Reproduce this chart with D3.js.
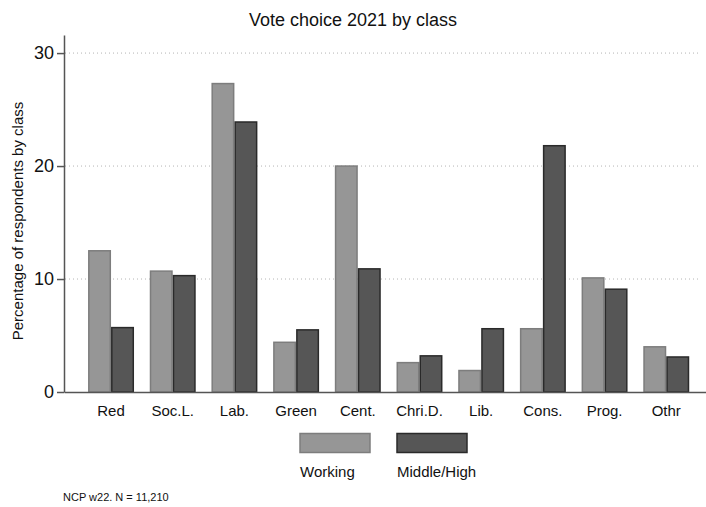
<!DOCTYPE html>
<html>
<head>
<meta charset="utf-8">
<script src="https://cdn.jsdelivr.net/npm/d3@7"></script>
<style>
  html, body { margin: 0; padding: 0; background: #fff; }
  svg { display: block; font-family: "Liberation Sans", Arial, sans-serif; }
</style>
</head>
<body>
<svg id="chart" width="706" height="507"></svg>
<script>
// Party categories and vote shares (%) per class
const categories = ["Red", "Soc.L.", "Lab.", "Green", "Cent.", "Chri.D.", "Lib.", "Cons.", "Prog.", "Othr"];
const seriesNames = ["Working", "Middle/High"];
const working    = [12.5, 10.7, 27.3, 4.4, 20.0, 2.6, 1.9, 5.6, 10.1, 4.0];
const middleHigh = [5.7, 10.3, 23.9, 5.5, 10.9, 3.2, 5.6, 21.8, 9.1, 3.1];
const yTicks = [0, 10, 20, 30];

const fills   = ["#969696", "#565656"];
const strokes = ["#7d7d7d", "#2a2a2a"];

const svg = d3.select("#chart");

const x = d3.scaleBand()
  .domain(categories)
  .range([64, 713.3])
  .paddingInner(0.255)
  .paddingOuter(0.39);

const xs = d3.scaleBand()
  .domain(seriesNames)
  .range([0, x.bandwidth()]);

const y = d3.scaleLinear()
  .domain([0, 31.6])
  .range([392, 35]);

// dotted gridlines
svg.append("g")
  .selectAll("line")
  .data(yTicks.filter(d => d > 0))
  .join("line")
  .attr("x1", 65).attr("x2", 700)
  .attr("y1", d => y(d)).attr("y2", d => y(d))
  .attr("stroke", "#b4b4b4")
  .attr("stroke-width", 1)
  .attr("stroke-dasharray", "1,3");

// bars
const rows = categories.map((c, i) => ({ cat: c, values: [working[i], middleHigh[i]] }));
svg.append("g")
  .selectAll("g")
  .data(rows)
  .join("g")
  .attr("transform", d => `translate(${x(d.cat)},0)`)
  .selectAll("rect")
  .data(d => d.values.map((v, k) => ({ s: seriesNames[k], v, k })))
  .join("rect")
  .attr("x", d => xs(d.s) + 0.75)
  .attr("width", xs.bandwidth() - 1.5)
  .attr("y", d => y(d.v))
  .attr("height", d => y(0) - y(d.v))
  .attr("fill", d => fills[d.k])
  .attr("stroke", d => strokes[d.k])
  .attr("stroke-width", 1.5);

// x axis
const xAxis = svg.append("g")
  .attr("transform", `translate(0,${y(0)})`)
  .call(d3.axisBottom(x).tickSize(0).tickPadding(13));
xAxis.select(".domain").attr("stroke", "#555").attr("stroke-width", 1.5);
xAxis.selectAll("text")
  .attr("font-size", 15)
  .attr("fill", "#111")
  .attr("font-family", "'Liberation Sans', Arial, sans-serif");

// y axis
const yAxis = svg.append("g")
  .attr("transform", "translate(64,0)")
  .call(d3.axisLeft(y).tickValues(yTicks).tickSize(7).tickSizeOuter(0).tickPadding(3));
yAxis.select(".domain").attr("stroke", "#555").attr("stroke-width", 1.5);
yAxis.selectAll(".tick line").attr("stroke", "#555").attr("stroke-width", 1.5);
yAxis.selectAll("text")
  .attr("font-size", 18)
  .attr("fill", "#111")
  .attr("font-family", "'Liberation Sans', Arial, sans-serif");

// title
svg.append("text")
  .attr("x", 353).attr("y", 26)
  .attr("text-anchor", "middle")
  .attr("font-size", 18)
  .attr("fill", "#111")
  .text("Vote choice 2021 by class");

// y axis title
svg.append("text")
  .attr("transform", "translate(23,221) rotate(-90)")
  .attr("text-anchor", "middle")
  .attr("font-size", 15)
  .attr("fill", "#111")
  .text("Percentage of respondents by class");

// legend
const legendX = [300, 397];
const legend = svg.append("g")
  .selectAll("g")
  .data(seriesNames)
  .join("g")
  .attr("transform", (d, i) => `translate(${legendX[i]},0)`);
legend.append("rect")
  .attr("x", 0).attr("y", 433.5)
  .attr("width", 70).attr("height", 19)
  .attr("fill", (d, i) => fills[i])
  .attr("stroke", (d, i) => strokes[i])
  .attr("stroke-width", 1.5);
legend.append("text")
  .attr("x", 0).attr("y", 477)
  .attr("font-size", 15)
  .attr("fill", "#111")
  .text(d => d);

// source note
svg.append("text")
  .attr("x", 63).attr("y", 501)
  .attr("font-size", 11)
  .attr("fill", "#111")
  .text("NCP w22. N = 11,210");
</script>
</body>
</html>
